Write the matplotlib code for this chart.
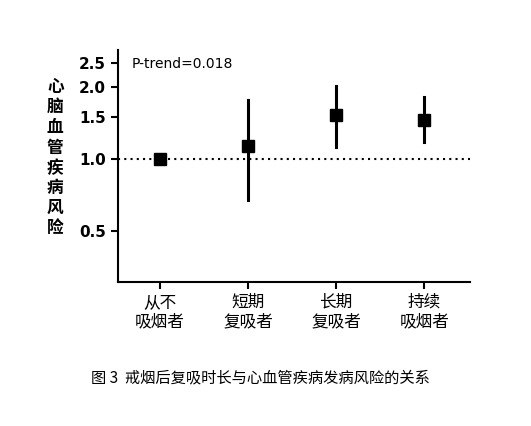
import matplotlib
matplotlib.use("Agg")
import matplotlib.pyplot as plt
plt.rcParams['font.family'] = ['Noto Sans CJK SC', 'DejaVu Sans']

categories = ["从不\n吸烟者", "短期\n复吸者", "长期\n复吸者", "持续\n吸烟者"]
hr = [1.0, 1.13, 1.53, 1.45]
lower = [1.0, 0.67, 1.12, 1.17]
upper = [1.0, 1.76, 2.02, 1.81]
yticks = [0.5, 1.0, 1.5, 2.0, 2.5]

fig = plt.figure(figsize=(5.31, 4.26), dpi=100)
ax = fig.add_axes([0.222, 0.338, 0.663, 0.545])
x = list(range(len(categories)))
ax.axhline(1.0, color='black', linestyle=(0, (1, 2)), linewidth=1.5, zorder=1)
for i in x:
    ax.plot([i, i], [lower[i], upper[i]], color='black', linewidth=2.2, zorder=2)
ax.plot(x, hr, 's', color='black', markersize=8, zorder=3)
ax.set_yscale('log')
ax.set_ylim(0.306, 2.85)
ax.set_xlim(-0.48, 3.52)
ax.set_yticks(yticks)
ax.set_yticklabels([f"{v:.1f}" for v in yticks], fontsize=11, fontweight='bold', family='DejaVu Sans')
ax.yaxis.set_minor_locator(matplotlib.ticker.NullLocator())
ax.set_xticks(x)
ax.set_xticklabels(categories, fontsize=12, linespacing=1.2)
for s in ['top', 'right']:
    ax.spines[s].set_visible(False)
for s in ['left', 'bottom']:
    ax.spines[s].set_linewidth(1.5)
ax.tick_params(width=1.5, length=5)
ax.text(0.04, 0.97, "P-trend=0.018", transform=ax.transAxes, fontsize=10, va='top', family='DejaVu Sans')
fig.text(0.104, 0.63, "\n".join("心脑血管疾病风险"), fontsize=12, fontweight='bold',
         ha='center', va='center', linespacing=1.15)
fig.text(0.49, 0.113, "图 3  戒烟后复吸时长与心血管疾病发病风险的关系", fontsize=11, ha='center', va='center')
fig.savefig("out.png", dpi=100)
